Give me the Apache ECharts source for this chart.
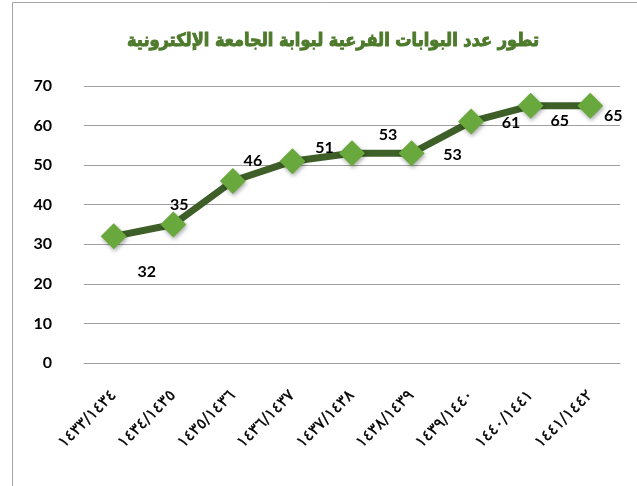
<!DOCTYPE html>
<html>
<head>
<meta charset="utf-8">
<script src="https://cdn.jsdelivr.net/npm/echarts@6/dist/echarts.min.js"></script>
<style>
  html, body { margin: 0; padding: 0; background: #fff; }
  #chart { width: 637px; height: 486px; }
</style>
</head>
<body>
<div id="chart"></div>
<script>
// السنوات الهجرية
const years = [
  "١٤٣٣/١٤٣٤", "١٤٣٤/١٤٣٥", "١٤٣٥/١٤٣٦", "١٤٣٦/١٤٣٧", "١٤٣٧/١٤٣٨",
  "١٤٣٨/١٤٣٩", "١٤٣٩/١٤٤٠", "١٤٤٠/١٤٤١", "١٤٤١/١٤٤٢"
];
// عدد البوابات الفرعية
const portals = [32, 35, 46, 51, 53, 53, 61, 65, 65];
const yTicks = [0, 10, 20, 30, 40, 50, 60, 70];

// where each data label sits relative to its point (as in the original)
const labelOffsets = [
  [33, 35], [6, -20], [20, -20], [32, -13], [36, -18],
  [41, 2], [40, 1], [29, 15], [23, 10]
];

const chart = echarts.init(document.getElementById("chart"));

const option = {
  animation: false,
  title: {
    text: "تطور عدد البوابات الفرعية لبوابة الجامعة الإلكترونية",
    left: 328,
    textAlign: "center",
    top: 27,
    textStyle: {
      fontFamily: "DejaVu Sans Condensed",
      fontWeight: "bold",
      fontSize: 18,
      color: "#4e7a2c",
      textBorderColor: "#4e7a2c",
      textBorderWidth: 0.9,
    },
  },
  graphic: [
    {
      type: "rect",
      shape: { x: 12.5, y: 2.5, width: 700, height: 600 },
      style: { fill: "none", stroke: "#a6a6a6", lineWidth: 1 },
      silent: true,
    },
  ],
  grid: {
    left: 84,
    right: 17,
    top: 86,
    bottom: 123,
  },
  xAxis: {
    type: "category",
    data: years,
    boundaryGap: true,
    axisLine: { show: true, lineStyle: { color: "#a0a0a0", width: 1 } },
    axisTick: { show: false },
    axisLabel: {
      rotate: 45,
      margin: 30,
      fontFamily: "DejaVu Sans",
      fontSize: 16,
      color: "#000",
      textBorderColor: "#000",
      textBorderWidth: 0.3,
    },
  },
  yAxis: {
    type: "value",
    min: yTicks[0],
    max: yTicks[yTicks.length - 1],
    interval: 10,
    axisLine: { show: false },
    axisTick: { show: false },
    splitLine: { lineStyle: { color: "#a0a0a0", width: 1 } },
    axisLabel: {
      margin: 32,
      fontFamily: "Lato",
      fontWeight: "bold",
      fontSize: 16,
      color: "#000",
    },
  },
  series: [
    {
      type: "line",
      data: portals.map((v, i) => ({
        value: v,
        label: { offset: labelOffsets[i] },
      })),
      symbol: "diamond",
      symbolSize: 26,
      lineStyle: { color: "#3e5f28", width: 7 },
      itemStyle: {
        color: "#69a83c",
        shadowColor: "rgba(0,0,0,0.35)",
        shadowBlur: 4,
        shadowOffsetX: 1,
        shadowOffsetY: 2,
      },
      label: {
        show: true,
        position: "inside",
        fontFamily: "Lato",
        fontWeight: "bold",
        fontSize: 16,
        color: "#000",
      },
      z: 3,
    },
  ],
};

chart.setOption(option);
</script>
</body>
</html>
